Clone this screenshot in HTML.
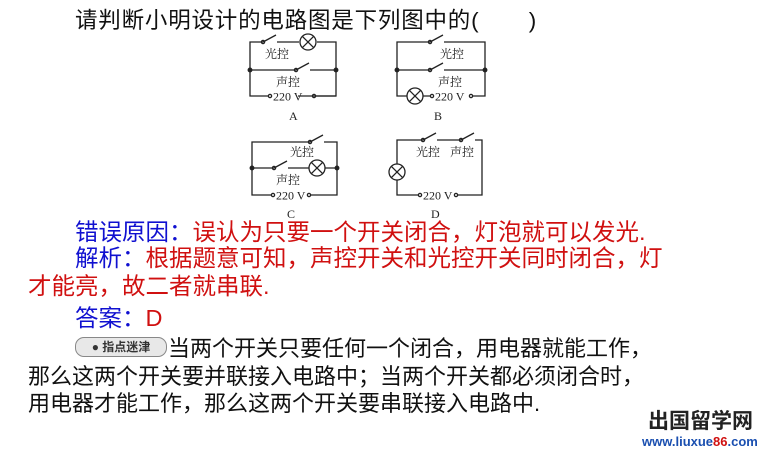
<!DOCTYPE html>
<html><head><meta charset="utf-8"><style>
body{margin:0;width:782px;height:449px;background:#fff;position:relative;overflow:hidden;font-family:"Liberation Sans","Noto Sans CJK SC",sans-serif;}
.t{position:absolute;white-space:nowrap;line-height:1;}
.b{color:#1010d0}.r{color:#d01010}
svg{position:absolute;left:0;top:0}
</style></head><body>
<div class="t" style="left:75px;top:10px;font-size:22.5px;letter-spacing:0.8px;color:#111">请判断小明设计的电路图是下列图中的(&nbsp;&nbsp;&nbsp;&nbsp;&nbsp;&nbsp;&nbsp;)</div>

<svg width="782" height="449" viewBox="0 0 782 449" fill="none" stroke="#222" stroke-width="1.3" font-family="Liberation Serif,'Noto Serif CJK SC',serif">
<!-- A -->
<path d="M263 42H250V96H268M298 96H336V42H317M299 42H277"/>
<path d="M250 70H296M310 70H336"/>
<path d="M263 42l13 -7M296 70l13 -7"/>
<circle cx="263" cy="42" r="1.6"/><circle cx="296" cy="70" r="1.6"/>
<circle cx="308" cy="42" r="8"/><path d="M302.3 36.3l11.4 11.4M313.7 36.3l-11.4 11.4"/>
<circle cx="250" cy="70" r="1.8" fill="#222"/><circle cx="336" cy="70" r="1.8" fill="#222"/>
<circle cx="270" cy="96" r="1.6"/><circle cx="314" cy="96" r="1.6"/><path d="M316 96H336"/>
<!-- B -->
<path d="M430 42H397V96H407M423 96H430M473 96H485V42H444"/>
<path d="M397 70H430M444 70H485"/>
<path d="M430 42l13 -7M430 70l13 -7"/>
<circle cx="430" cy="42" r="1.6"/><circle cx="430" cy="70" r="1.6"/>
<circle cx="415" cy="96" r="8"/><path d="M409.3 90.3l11.4 11.4M420.7 90.3l-11.4 11.4"/>
<circle cx="397" cy="70" r="1.8" fill="#222"/><circle cx="485" cy="70" r="1.8" fill="#222"/>
<circle cx="432" cy="96" r="1.6"/><circle cx="471" cy="96" r="1.6"/>
<!-- C -->
<path d="M310 142H252V195H271M310 195H337V142H324"/>
<path d="M252 168H274M288 168H309M325 168H337"/>
<path d="M310 142l13 -7M274 168l13 -7"/>
<circle cx="310" cy="142" r="1.6"/><circle cx="274" cy="168" r="1.6"/>
<circle cx="317" cy="168" r="8"/><path d="M311.3 162.3l11.4 11.4M322.7 162.3l-11.4 11.4"/>
<circle cx="252" cy="168" r="1.8" fill="#222"/><circle cx="337" cy="168" r="1.8" fill="#222"/>
<circle cx="273" cy="195" r="1.6"/><circle cx="309" cy="195" r="1.6"/>
<!-- D -->
<path d="M423 140H397V164M397 180V195H418M458 195H482V140H475M461 140H437"/>
<path d="M423 140l13 -7M461 140l13 -7"/>
<circle cx="423" cy="140" r="1.6"/><circle cx="461" cy="140" r="1.6"/>
<circle cx="397" cy="172" r="8"/><path d="M391.3 166.3l11.4 11.4M402.7 166.3l-11.4 11.4"/>
<circle cx="420" cy="195" r="1.6"/><circle cx="456" cy="195" r="1.6"/>
<g fill="#222" stroke="none" font-size="12">
<text x="265" y="58">光控</text><text x="276" y="86">声控</text>
<text x="273" y="100.5">220 V</text><text x="289" y="120">A</text>
<text x="440" y="58">光控</text><text x="438" y="86">声控</text>
<text x="435" y="100.5">220 V</text><text x="434" y="120">B</text>
<text x="290" y="156">光控</text><text x="276" y="184">声控</text>
<text x="276" y="199.5">220 V</text><text x="287" y="218">C</text>
<text x="416" y="156">光控</text><text x="450" y="156">声控</text>
<text x="423" y="199.5">220 V</text><text x="431" y="218">D</text>
</g>
</svg>

<div class="t" style="left:75px;top:221px;font-size:23.5px"><span class="b">错误原因：</span><span class="r">误认为只要一个开关闭合，灯泡就可以发光.</span></div>
<div class="t" style="left:75px;top:247px;font-size:23.5px"><span class="b">解析：</span><span class="r">根据题意可知，声控开关和光控开关同时闭合，灯</span></div>
<div class="t r" style="left:28px;top:275px;font-size:23.5px">才能亮，故二者就串联.</div>
<div class="t" style="left:75px;top:307px;font-size:23.5px"><span class="b">答案：</span><span class="r">D</span></div>

<div class="t" style="left:75px;top:337px;width:90px;height:18px;border:1px solid #888;border-radius:9px;background:#e8e8e8;font-size:12px;color:#333;line-height:18px;text-align:center;font-weight:bold">● 指点迷津</div>
<div class="t" style="left:168px;top:338px;font-size:22px;color:#111">当两个开关只要任何一个闭合，用电器就能工作，</div>
<div class="t" style="left:28px;top:366px;font-size:22px;color:#111">那么这两个开关要并联接入电路中；当两个开关都必须闭合时，</div>
<div class="t" style="left:28px;top:393px;font-size:22px;color:#111">用电器才能工作，那么这两个开关要串联接入电路中.</div>

<div class="t" style="left:648px;top:411px;font-size:21px;color:#222;font-weight:bold">出国留学网</div>
<div class="t" style="left:642px;top:435px;font-size:13px;color:#1a4fb0;font-weight:bold">www.liuxue<span style="color:#d01010">86</span>.com</div>
</body></html>
